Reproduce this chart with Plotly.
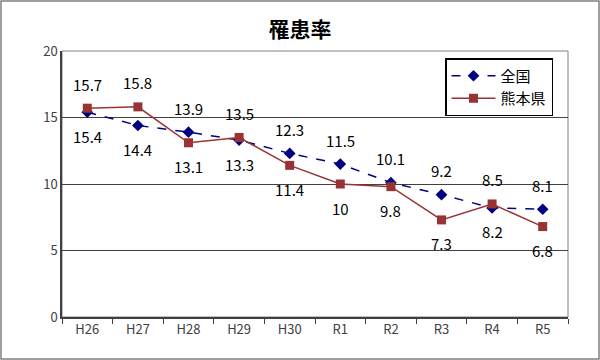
import plotly.graph_objects as go

categories = ["H26", "H27", "H28", "H29", "H30", "R1", "R2", "R3", "R4", "R5"]
zenkoku = [15.4, 14.4, 13.9, 13.3, 12.3, 11.5, 10.1, 9.2, 8.2, 8.1]
kumamoto = [15.7, 15.8, 13.1, 13.5, 11.4, 10, 9.8, 7.3, 8.5, 6.8]
zenkoku_label_side = [-1, -1, 1, -1, 1, 1, 1, 1, -1, 1]
kumamoto_label_side = [1, 1, -1, 1, -1, -1, -1, -1, 1, -1]
y_ticks = [0, 5, 10, 15, 20]

FONT = "Noto Sans CJK JP"
W, H = 600, 360
L, R, T, B = 62, 32, 51, 43
pw, ph = W - L - R, H - T - B

fig = go.Figure()
fig.add_trace(go.Scatter(
    x=categories, y=zenkoku, name="全国", mode="lines+markers",
    line=dict(color="#000080", width=1.5, dash="dash"),
    marker=dict(symbol="diamond", size=9, color="#000080"),
))
fig.add_trace(go.Scatter(
    x=categories, y=kumamoto, name="熊本県", mode="lines+markers",
    line=dict(color="#993333", width=1.5),
    marker=dict(symbol="square", size=9, color="#993333"),
))

annotations = []
for vals, sides in ((zenkoku, zenkoku_label_side), (kumamoto, kumamoto_label_side)):
    for c, v, s in zip(categories, vals, sides):
        annotations.append(dict(
            x=c, y=v, text=f"{v:g}", showarrow=False,
            yshift=24 * s, font=dict(family=FONT, size=15, color="#000000"),
        ))

fig.update_layout(
    width=W, height=H,
    margin=dict(l=L, r=R, t=T, b=B),
    paper_bgcolor="#ffffff", plot_bgcolor="#ffffff",
    title=dict(text="<b>罹患率</b>", x=0.5, xanchor="center", y=1 - 30 / H, yanchor="middle",
               font=dict(family=FONT, size=21, color="#000000")),
    font=dict(family=FONT),
    annotations=annotations,
    showlegend=True,
    legend=dict(
        x=(445 - L) / pw, xanchor="left", y=1 - (58 - T) / ph, yanchor="top",
        bgcolor="#ffffff", bordercolor="#000000", borderwidth=1.5,
        font=dict(family=FONT, size=15, color="#000000"),
        tracegroupgap=9, itemwidth=44,
    ),
    xaxis=dict(
        type="category", range=[-0.5, 9.5],
        showline=True, linecolor="#404040", linewidth=1.5,
        ticks="outside", tickson="boundaries", ticklen=5, tickcolor="#404040",
        tickfont=dict(family=FONT, size=13, color="#404040"),
        showgrid=False, zeroline=False,
    ),
    yaxis=dict(
        range=[0, 20], tickvals=y_ticks,
        showline=True, linecolor="#404040", linewidth=1.5,
        ticks="", tickfont=dict(family=FONT, size=13, color="#404040"),
        showgrid=True, gridcolor="#404040", gridwidth=1, zeroline=False,
    ),
    shapes=[
        dict(type="rect", xref="paper", yref="paper", x0=0, x1=1, y0=0, y1=1,
             line=dict(color="#808080", width=1), layer="below"),
        dict(type="rect", xref="paper", yref="paper",
             x0=-(L - 1) / pw, x1=1 + (R - 1) / pw, y0=-(B - 1) / ph, y1=1 + (T - 1) / ph,
             line=dict(color="#808080", width=1.5)),
    ],
)

fig.write_html("out.html", config={"displayModeBar": False},
               post_script="document.body.style.margin='0';document.body.style.overflow='hidden';")
